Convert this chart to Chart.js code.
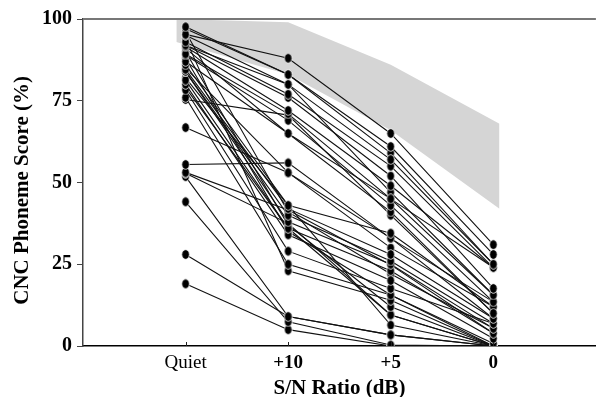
<!DOCTYPE html>
<html>
<head>
<meta charset="utf-8">
<script src="https://cdn.jsdelivr.net/npm/chart.js@4.4.1/dist/chart.umd.min.js"></script>
<style>
  html, body { margin: 0; padding: 0; background: #fff; }
  #wrap { width: 601px; height: 397px; }
</style>
</head>
<body>
<div id="wrap"><canvas id="chart"></canvas></div>
<script>
// S/N conditions along the x axis
const levels = ['Quiet', '+10', '+5', '0'];
const levelX = [1, 2, 3, 4];

// normal-hearing range (shaded band)
const bandX = [0.91, 2, 3, 4.06];
const bandTop = [100, 99, 86, 68];
const bandBottom = [93, 83, 66, 42];

// one entry per subject, same index across the four arrays
const scoreQuiet = [97.6, 95.3, 95, 93, 92, 91.5, 89.3, 89, 87, 86, 84.6, 84, 83.9, 81.3, 80, 78.3, 76, 75.4, 94, 90, 66.8, 55.5, 53.1, 52.8, 51.8, 44.1, 28, 19, 88, 82, 79, 96, 85, 92, 91, 97];
const score10 = [83, 88, 80, 77, 76, 72, 71, 69, 65, 43, 42, 40, 38, 36, 34, 29, 25, 70.6, 23, 37, 53, 56, 41.6, 37.5, 9, 7.4, 9, 5, 35, 43, 36, 41, 53, 80, 65, 83];
const score5 = [61, 65, 57, 55, 52, 49, 45, 43, 41, 34.5, 28, 26, 25, 23, 20, 17.6, 15.6, 40, 14, 12, 33, 32.9, 24.8, 9.5, 3.4, 0.3, 3.4, 0, 15.6, 6.4, 9.5, 22, 30, 47, 45, 59];
const score0 = [28, 31, 25, 24, 17.6, 24, 15.6, 13.5, 10, 12, 8.4, 6.9, 5.4, 3.9, 2.3, 6.9, 0.8, 10, 0, 0, 8.4, 13.5, 3.9, 0, 0, 0, 0, 0, 0, 0, 0, 5.4, 12, 15.6, 24, 25];

const yTicks = [0, 25, 50, 75, 100];

const serif = "'Liberation Serif', 'Times New Roman', serif";

// small ellipse marker like the original dots
const dot = document.createElement('canvas');
dot.width = 9;
dot.height = 11;
{
  const g = dot.getContext('2d');
  g.beginPath();
  g.ellipse(4.5, 5.5, 3.8, 4.8, 0, 0, Math.PI * 2);
  g.fillStyle = '#000';
  g.fill();
  g.lineWidth = 0.8;
  g.strokeStyle = '#fff';
  g.stroke();
}

const subjectSets = scoreQuiet.map((q, i) => ({
  data: [q, score10[i], score5[i], score0[i]].map((y, k) => ({ x: levelX[k], y })),
  borderColor: '#111',
  borderWidth: 1.1,
  pointStyle: dot,
  pointRadius: 4,
  fill: false,
  order: 0,
}));

const bandSets = [
  { data: bandX.map((x, i) => ({ x, y: bandTop[i] })), borderWidth: 0, pointRadius: 0, fill: false, order: 10 },
  { data: bandX.map((x, i) => ({ x, y: bandBottom[i] })), borderWidth: 0, pointRadius: 0, fill: '-1', backgroundColor: '#d5d5d5', order: 10 },
];

const frame = {
  id: 'frame',
  afterDraw(chart) {
    const { ctx, chartArea, scales } = chart;
    ctx.save();
    ctx.strokeStyle = '#777';
    ctx.lineWidth = 2;
    ctx.beginPath();
    ctx.moveTo(chartArea.left, chartArea.top);
    ctx.lineTo(chartArea.right, chartArea.top);
    ctx.stroke();
    ctx.strokeStyle = '#222';
    ctx.lineWidth = 1;
    levelX.forEach((v) => {
      const px = Math.round(scales.x.getPixelForValue(v)) + 0.5;
      ctx.beginPath();
      ctx.moveTo(px, chartArea.bottom);
      ctx.lineTo(px, chartArea.bottom - 4);
      ctx.stroke();
    });
    ctx.restore();
  }
};

new Chart(document.getElementById('chart'), {
  type: 'line',
  data: { datasets: [...bandSets, ...subjectSets] },
  options: {
    responsive: true,
    maintainAspectRatio: false,
    animation: false,
    layout: { padding: { top: 19, right: 0, left: 0, bottom: 0 } },
    plugins: { legend: { display: false }, tooltip: { enabled: false } },
    scales: {
      x: {
        type: 'linear',
        min: 0,
        max: 5,
        afterBuildTicks: (s) => { s.ticks = levelX.map((value) => ({ value })); },
        afterFit: (s) => { s.height = 51; },
        grid: { display: false },
        border: { display: true, color: '#000', width: 1.5 },
        ticks: {
          padding: -2,
          color: '#000',
          callback: (v) => levels[levelX.indexOf(v)],
          font: (c) => ({ family: serif, size: 19, weight: c.tick && c.tick.value === 1 ? 'normal' : 'bold' }),
        },
        title: {
          display: true,
          text: 'S/N Ratio (dB)',
          color: '#000',
          font: { family: serif, size: 21, weight: 'bold', lineHeight: 0.8 },
          padding: { top: 0, bottom: 0 },
        },
      },
      y: {
        min: 0,
        max: 100,
        afterBuildTicks: (s) => { s.ticks = yTicks.map((value) => ({ value })); },
        afterFit: (s) => { s.width = 83; },
        grid: { display: true, drawOnChartArea: false, drawTicks: true, tickLength: 6, color: '#444', lineWidth: 1 },
        border: { display: true, color: '#444', width: 1.5 },
        ticks: {
          padding: 5,
          color: '#000',
          font: { family: serif, size: 20, weight: 'bold' },
        },
        title: {
          display: true,
          text: 'CNC Phoneme Score (%)   ',
          color: '#000',
          font: { family: serif, size: 21, weight: 'bold', lineHeight: 1.2 },
          padding: { top: 10, bottom: 0 },
        },
      },
    },
  },
  plugins: [frame],
});
</script>
</body>
</html>
